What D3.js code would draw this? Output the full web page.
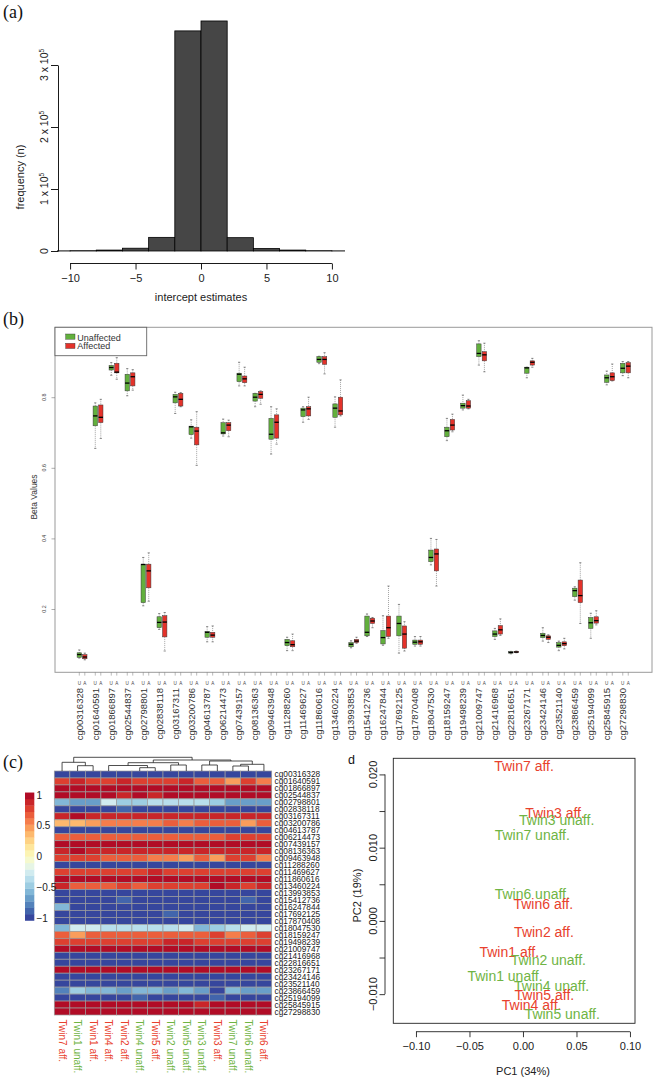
<!DOCTYPE html>
<html><head><meta charset="utf-8">
<script src="https://cdn.jsdelivr.net/npm/d3@7"></script>
<style>body{margin:0;background:#fff} svg{display:block}</style>
</head><body>
<svg id="c" width="657" height="1081"></svg>
<script>
// ---------- DATA ----------
// (a) histogram
const histBreaks = [-12,-10,-8,-6,-4,-2,0,2,4,6,8,10,12];
const histCounts = [200,500,1500,4500,22000,355000,371000,21500,4000,1500,500,200];
const histXTicks = [-10,-5,0,5,10];
const histYTicks = [0,100000,200000,300000];
const histYTickLabels = [["0",""],["1 x 10","5"],["2 x 10","5"],["3 x 10","5"]];

// (b) boxplots  [lo, q1, median, q3, hi]
const probes = ["cg00316328","cg01640591","cg01866897","cg02544837","cg02798801","cg02838118","cg03167311","cg03200786","cg04613787","cg06214473","cg07439157","cg08136363","cg09463948","cg11288260","cg11469627","cg11860616","cg13460224","cg13993853","cg15412736","cg16247844","cg17692125","cg17870408","cg18047530","cg18159247","cg19498239","cg21009747","cg21416968","cg22816651","cg23267171","cg23424146","cg23521140","cg23866459","cg25194099","cg25845915","cg27298830"];
const unaffStats = [
[0.061,0.063,0.071,0.076,0.084],[0.655,0.719,0.747,0.775,0.784],[0.862,0.877,0.884,0.890,0.898],[0.804,0.818,0.840,0.865,0.881],
[0.209,0.218,0.326,0.327,0.346],[0.142,0.147,0.162,0.178,0.187],[0.754,0.784,0.801,0.808,0.814],[0.684,0.694,0.716,0.718,0.736],
[0.107,0.120,0.134,0.136,0.150],[0.690,0.696,0.699,0.728,0.738],[0.832,0.844,0.865,0.868,0.899],[0.773,0.789,0.800,0.811,0.811],
[0.639,0.681,0.695,0.740,0.773],[0.082,0.096,0.105,0.114,0.120],[0.729,0.745,0.764,0.769,0.773],[0.895,0.899,0.907,0.915,0.916],
[0.715,0.743,0.769,0.781,0.801],[0.090,0.093,0.100,0.105,0.110],[0.122,0.124,0.134,0.180,0.186],[0.097,0.101,0.119,0.139,0.181],
[0.075,0.124,0.159,0.180,0.213],[0.095,0.100,0.106,0.112,0.122],[0.325,0.334,0.346,0.367,0.400],[0.677,0.688,0.705,0.715,0.740],
[0.764,0.769,0.776,0.783,0.806],[0.891,0.915,0.924,0.951,0.960],[0.114,0.122,0.129,0.138,0.145],[0.073,0.075,0.077,0.079,0.080],
[0.855,0.868,0.883,0.885,0.885],[0.109,0.119,0.125,0.131,0.147],[0.082,0.092,0.097,0.105,0.109],[0.225,0.235,0.252,0.259,0.263],
[0.117,0.145,0.161,0.176,0.188],[0.835,0.842,0.855,0.863,0.874],[0.861,0.869,0.882,0.896,0.901]];
const affStats = [
[0.056,0.059,0.064,0.071,0.075],[0.683,0.728,0.743,0.778,0.794],[0.851,0.869,0.871,0.896,0.912],[0.820,0.832,0.858,0.869,0.878],
[0.222,0.260,0.308,0.327,0.359],[0.081,0.121,0.163,0.181,0.190],[0.773,0.775,0.794,0.811,0.813],[0.607,0.665,0.704,0.715,0.759],
[0.107,0.120,0.126,0.134,0.152],[0.688,0.705,0.721,0.728,0.735],[0.832,0.841,0.852,0.860,0.885],[0.780,0.797,0.808,0.816,0.818],
[0.667,0.684,0.729,0.750,0.767],[0.082,0.093,0.099,0.110,0.129],[0.737,0.747,0.767,0.773,0.800],[0.866,0.893,0.907,0.915,0.926],
[0.747,0.750,0.761,0.800,0.849],[0.103,0.105,0.109,0.114,0.120],[0.147,0.159,0.166,0.174,0.176],[0.117,0.122,0.147,0.180,0.265],
[0.081,0.089,0.129,0.152,0.164],[0.095,0.100,0.107,0.112,0.122],[0.265,0.308,0.356,0.370,0.397],[0.702,0.707,0.721,0.737,0.752],
[0.767,0.769,0.775,0.790,0.794],[0.872,0.903,0.920,0.929,0.953],[0.125,0.129,0.141,0.153,0.172],[0.076,0.077,0.078,0.080,0.081],
[0.885,0.891,0.899,0.903,0.910],[0.105,0.114,0.120,0.124,0.127],[0.087,0.096,0.102,0.107,0.117],[0.159,0.218,0.238,0.282,0.331],
[0.155,0.160,0.167,0.178,0.195],[0.846,0.847,0.858,0.869,0.894],[0.855,0.869,0.888,0.898,0.901]];
const betaTicks = [0.2,0.4,0.6,0.8];

// (c) heatmap
const hmCols = ["Twin7 aff.","Twin1 unaff.","Twin1 aff.","Twin4 aff.","Twin2 aff.","Twin4 unaff.","Twin5 aff.","Twin2 unaff.","Twin5 unaff.","Twin3 unaff.","Twin3 aff.","Twin7 unaff.","Twin6 unaff.","Twin6 aff."];
const hmAffected = [1,0,1,1,1,0,1,0,0,0,1,0,0,1];
const hmValues = [
[-1,-1,-1,-1,-1,-1,-1,-1,-1,-1,-1,-1,-1,-1],
[0.8,0.85,0.8,0.75,0.85,0.75,0.8,0.75,0.85,0.65,0.65,0.5,0.75,0.55],
[0.95,0.95,0.95,0.95,0.95,0.95,0.95,0.95,0.95,0.95,0.95,0.95,0.95,0.95],
[0.95,0.95,0.95,0.95,0.9,0.95,0.9,0.95,0.95,0.95,0.95,0.95,0.95,0.95],
[-0.6,-0.65,-0.7,-0.3,-0.5,-0.45,-0.4,-0.4,-0.4,-0.4,-0.5,-0.7,-0.65,-0.7],
[-1,-1,-1,-1,-0.85,-1,-1,-1,-1,-1,-1,-1,-1,-1],
[0.9,0.95,0.9,0.9,0.9,0.85,0.9,0.9,0.85,0.9,0.85,0.9,0.9,0.85],
[0.35,0.35,0.45,0.6,0.6,0.6,0.6,0.65,0.6,0.65,0.7,0.65,0.5,0.65],
[-1,-1,-1,-1,-1,-1,-1,-1,-1,-1,-1,-1,-1,-1],
[0.7,0.7,0.7,0.7,0.7,0.7,0.7,0.7,0.7,0.7,0.7,0.75,0.75,0.8],
[0.95,0.95,0.95,0.95,0.95,0.95,0.95,0.95,0.95,0.95,0.95,0.95,0.95,0.95],
[0.9,0.95,0.9,0.9,0.85,0.9,0.85,0.85,0.85,0.9,0.9,0.85,0.9,0.9],
[0.75,0.75,0.75,0.65,0.65,0.65,0.55,0.6,0.45,0.65,0.5,0.75,0.75,0.55],
[-1,-1,-1,-1,-1,-1,-1,-1,-1,-1,-1,-1,-1,-1],
[0.8,0.8,0.75,0.75,0.8,0.75,0.9,0.75,0.75,0.75,0.75,0.8,0.8,0.75],
[0.95,0.95,0.95,0.95,0.95,0.95,0.95,0.95,0.95,0.95,0.95,0.95,0.95,0.95],
[0.85,0.65,0.7,0.7,0.75,0.65,0.75,0.75,0.8,0.8,0.95,0.85,0.8,0.9],
[-1,-1,-1,-1,-1,-1,-1,-1,-1,-1,-1,-1,-1,-1],
[-1,-1,-1,-1,-0.85,-1,-1,-1,-1,-1,-1,-1,-0.85,-1],
[-0.6,-1,-1,-1,-1,-1,-1,-1,-1,-1,-1,-1,-1,-1],
[-1,-1,-1,-1,-1,-1,-1,-0.85,-1,-1,-1,-1,-1,-1],
[-1,-1,-1,-1,-1,-1,-1,-1,-1,-1,-1,-1,-1,-1],
[-0.6,-0.25,-0.3,-0.35,-0.4,-0.4,-0.4,-0.4,-0.3,-0.55,-0.45,-0.4,-0.3,-0.3],
[0.65,0.45,0.65,0.65,0.65,0.65,0.65,0.65,0.65,0.65,0.75,0.55,0.65,0.75],
[0.8,0.8,0.8,0.8,0.8,0.8,0.8,0.9,0.9,0.8,0.8,0.8,0.8,0.8],
[0.95,0.95,0.95,0.95,0.95,0.95,0.95,0.95,0.95,0.95,0.95,0.95,0.95,0.95],
[-1,-1,-1,-1,-1,-1,-1,-1,-1,-1,-1,-1,-1,-1],
[-1,-1,-1,-1,-1,-1,-1,-1,-1,-1,-1,-1,-1,-1],
[0.95,0.95,0.95,0.95,0.95,0.95,0.95,0.95,0.95,0.95,0.95,0.95,0.95,0.95],
[-1,-1,-1,-1,-1,-1,-1,-1,-1,-1,-1,-1,-1,-1],
[-1,-1,-1,-1,-1,-1,-1,-1,-1,-1,-1,-1,-1,-1],
[-0.75,-0.5,-0.55,-0.55,-0.7,-0.6,-0.6,-0.65,-0.6,-0.7,-1,-0.6,-0.7,-0.7],
[-1,-1,-1,-1,-1,-0.85,-1,-1,-1,-1,-0.85,-1,-1,-1],
[0.95,0.95,0.95,0.95,0.95,0.95,0.95,0.95,0.95,0.85,0.95,0.95,0.95,0.95],
[0.95,0.95,0.95,0.95,0.95,0.95,0.95,0.95,0.95,0.95,0.95,0.95,0.95,0.95]];
// dendrogram merges (hclust style: negative = leaf column (1-based), positive = earlier merge)
const dendroMerges = [[-6,-7,3.3],[-8,-9,6.0],[-4,1,5.5],[3,2,8.3],[-10,-11,6.0],[-12,-13,5.0],[6,-14,6.7],[5,7,10.0],[4,8,11.0],[-2,-3,5.3],[-1,10,8.7],[11,9,13.7]];
const legendTicks = [1,0.5,0,-0.5,-1];
const legendTickLabels = ["1","0.5","0","\u22120.5","\u22121"];

// (d) PCA
const pcaLabels = ["Twin7 aff.","Twin3 aff.","Twin3 unaff.","Twin7 unaff.","Twin6 unaff.","Twin6 aff.","Twin2 aff.","Twin1 aff.","Twin2 unaff.","Twin1 unaff.","Twin4 unaff.","Twin5 aff.","Twin4 aff.","Twin5 unaff."];
const pcaAffected = [1,1,0,0,0,1,1,1,0,0,0,1,1,0];
const pc1 = [0.001,0.030,0.0315,0.0087,0.0087,0.019,0.0196,-0.0128,0.0237,-0.0168,0.0268,0.020,0.0081,0.0367];
const pc2 = [0.0212,0.0147,0.0137,0.0117,0.0036,0.0023,-0.0015,-0.0042,-0.0053,-0.0076,-0.0089,-0.0101,-0.0115,-0.0127];
const pcXTicks = [-0.10,-0.05,0.00,0.05,0.10];
const pcYTicks = [-0.010,-0.005,0.000,0.005,0.010,0.015,0.020];
const pcYLabelTicks = [-0.010,0.000,0.010,0.020];

// ---------- DRAW ----------
const SANS = '"Liberation Sans", Arial, Helvetica, sans-serif';
const SERIF = '"Liberation Serif", "Times New Roman", serif';
const GREEN = "#62b03d", RED = "#e4322a";
const TGREEN = "#6fb443", TRED = "#e8412d";
const svg = d3.select("#c").attr("font-family", SANS);

function panelLabel(t, x, y, serif, size){
  svg.append("text").attr("x",x).attr("y",y).attr("font-family", serif?SERIF:SANS).attr("font-size",size).attr("fill","#111").text(t);
}
panelLabel("(a)",3,18,true,18);
panelLabel("(b)",3,325,true,18);
panelLabel("(c)",3,768,true,18);
panelLabel("d",348,764,false,12.5);

// ---- (a) ----
{
  const ax = d3.scaleLinear().domain([-11,11]).range([57,345]);
  const ay = d3.scaleLinear().domain([0,300000]).range([251,65]);
  svg.append("clipPath").attr("id","clipA").append("rect").attr("x",ax(-11)).attr("y",0).attr("width",ax(11)-ax(-11)).attr("height",262);
  const bins = histCounts.map((c,i)=>({x0:histBreaks[i],x1:histBreaks[i+1],c}));
  svg.append("g").attr("clip-path","url(#clipA)").selectAll("rect").data(bins).join("rect")
    .attr("x",d=>ax(d.x0)).attr("width",d=>ax(d.x1)-ax(d.x0))
    .attr("y",d=>ay(d.c)).attr("height",d=>ay(0)-ay(d.c))
    .attr("fill","#464646").attr("stroke","#000").attr("stroke-width",0.8);
  // y axis
  const gy = svg.append("g").attr("transform","translate(58,0)")
    .call(d3.axisLeft(ay).tickValues(histYTicks).tickSize(7).tickSizeOuter(0).tickFormat(""));
  gy.selectAll("path,line").attr("stroke","#000").attr("stroke-width",0.9);
  histYTicks.forEach((v,i)=>{
    const t = svg.append("text").attr("transform",`translate(48,${ay(v)}) rotate(-90)`)
      .attr("text-anchor","middle").attr("font-size",10.5).attr("fill","#222");
    t.append("tspan").text(histYTickLabels[i][0]);
    if(histYTickLabels[i][1]) t.append("tspan").attr("dy",-4).attr("font-size",6.5).text(histYTickLabels[i][1]);
  });
  svg.append("text").attr("transform",`translate(24,${ay(150000)+19}) rotate(-90)`).attr("text-anchor","middle")
    .attr("font-size",11).attr("fill","#222").text("frequency (n)");
  // x axis
  const gx = svg.append("g").attr("transform","translate(0,263.5)")
    .call(d3.axisBottom(ax).tickValues(histXTicks).tickSize(6).tickSizeOuter(0).tickFormat(d=>d<0?"\u2212"+Math.abs(d):d));
  gx.select(".domain").remove();
  gx.append("line").attr("x1",ax(-10)).attr("x2",ax(10)).attr("stroke","#000").attr("stroke-width",0.9);
  gx.selectAll("line").attr("stroke","#000").attr("stroke-width",0.9);
  gx.selectAll("text").attr("font-size",11).attr("fill","#222").attr("font-family",SANS).attr("dy","0.9em");
  svg.append("text").attr("x",ax(0)).attr("y",301).attr("text-anchor","middle").attr("font-size",11).attr("fill","#222").text("intercept estimates");
}

// ---- (b) ----
{
  const by = d3.scaleLinear().domain([0,1]).range([679.6,326.6]);
  const bx = d3.scalePoint().domain(probes).range([82.05,625.5]);
  const off = 2.75, bw = 4.4;
  svg.append("rect").attr("x",55).attr("y",327.3).attr("width",597).attr("height",345)
    .attr("fill","none").attr("stroke","#9a9a9a").attr("stroke-width",1);
  // y ticks
  const gy = svg.append("g").attr("transform","translate(55,0)")
    .call(d3.axisLeft(by).tickValues(betaTicks).tickSize(3.5).tickFormat(""));
  gy.select(".domain").remove();
  gy.selectAll("line").attr("stroke","#777").attr("stroke-width",0.6);
  betaTicks.forEach(v=>{
    svg.append("text").attr("transform",`translate(45.5,${by(v)}) rotate(-90)`).attr("text-anchor","middle")
      .attr("font-size",5.3).attr("fill","#444").text(d3.format(".1f")(v));
  });
  svg.append("text").attr("transform",`translate(37,497) rotate(-90)`).attr("text-anchor","middle")
    .attr("font-size",8.5).attr("fill","#333").text("Beta Values");
  // legend
  svg.append("rect").attr("x",55).attr("y",327.3).attr("width",91.7).attr("height",28.4)
    .attr("fill","#fff").attr("stroke","#666").attr("stroke-width",0.9);
  [["Unaffected",GREEN,334,340.7],["Affected",RED,343.3,349.3]].forEach(([t,c,y,ty])=>{
    svg.append("rect").attr("x",65.7).attr("y",y).attr("width",9.3).attr("height",5.2).attr("fill",c).attr("stroke","#333").attr("stroke-width",0.4);
    svg.append("text").attr("x",77.3).attr("y",ty).attr("font-size",9).attr("fill","#333").text(t);
  });
  const groups = [{s:unaffStats,c:GREEN,o:-off,l:"U"},{s:affStats,c:RED,o:off,l:"A"}];
  const g = svg.append("g");
  probes.forEach((p,i)=>{
    groups.forEach(gr=>{
      const [lo,q1,md,q3,hi] = gr.s[i];
      const x = bx(p)+gr.o;
      g.append("line").attr("x1",x).attr("x2",x).attr("y1",by(hi)).attr("y2",by(q3)).attr("stroke","#444").attr("stroke-width",0.5).attr("stroke-dasharray","1,1");
      g.append("line").attr("x1",x).attr("x2",x).attr("y1",by(q1)).attr("y2",by(lo)).attr("stroke","#444").attr("stroke-width",0.5).attr("stroke-dasharray","1,1");
      [lo,hi].forEach(v=>g.append("line").attr("x1",x-1.1).attr("x2",x+1.1).attr("y1",by(v)).attr("y2",by(v)).attr("stroke","#444").attr("stroke-width",0.6));
      g.append("rect").attr("x",x-bw/2).attr("width",bw).attr("y",by(q3)).attr("height",Math.max(0.6,by(q1)-by(q3)))
        .attr("fill",gr.c).attr("stroke","#3a3a3a").attr("stroke-width",0.5);
      g.append("line").attr("x1",x-bw/2).attr("x2",x+bw/2).attr("y1",by(md)).attr("y2",by(md)).attr("stroke","#000").attr("stroke-width",1.3);
      // ticks + labels
      g.append("line").attr("x1",x).attr("x2",x).attr("y1",672.3).attr("y2",675.6).attr("stroke","#777").attr("stroke-width",0.5);
      g.append("text").attr("x",x).attr("y",684.5).attr("text-anchor","middle").attr("font-size",4.6).attr("fill","#444").text(gr.l);
    });
    g.append("text").attr("transform",`translate(${bx(p)-off},688) rotate(-90)`).attr("text-anchor","end").attr("dy","0.35em")
      .attr("font-size",9.5).attr("fill","#333").text(p);
  });
}

// ---- (c) ----
{
  const hx = d3.scaleBand().domain(d3.range(hmCols.length)).range([54.3,271.7]);
  const hy = d3.scaleBand().domain(probes).range([771,1015]);
  const col = d3.scaleQuantize().domain([-1.04,1.04]).range(d3.range(20).map(i=>d3.interpolateRdYlBu(1-(i+0.5)/20)));
  const cells = [];
  hmValues.forEach((row,r)=>row.forEach((v,c)=>cells.push({r,c,v})));
  svg.append("g").selectAll("rect").data(cells).join("rect")
    .attr("x",d=>hx(d.c)).attr("y",d=>hy(probes[d.r])).attr("width",hx.bandwidth()).attr("height",hy.bandwidth())
    .attr("fill",d=>col(d.v)).attr("stroke","#9c9c9c").attr("stroke-width",0.7);
  // row labels
  svg.append("g").selectAll("text").data(probes).join("text")
    .attr("x",274.5).attr("y",d=>hy(d)+hy.bandwidth()/2).attr("dy","0.36em")
    .attr("font-size",8.3).attr("fill","#222").text(d=>d);
  // column labels
  svg.append("g").selectAll("text").data(hmCols).join("text")
    .attr("transform",(d,i)=>`translate(${hx(i)+hx.bandwidth()/2},1019.5) rotate(90)`).attr("dy","0.35em")
    .attr("font-size",10).attr("fill",(d,i)=>hmAffected[i]?TRED:TGREEN).text(d=>d);
  // dendrogram
  const dh = d3.scaleLinear().domain([0,13.7]).range([771,757.3]);
  const nodes = [];
  const pos = k => k<0 ? {x:hx(-k-1)+hx.bandwidth()/2, h:0} : nodes[k-1];
  const dg = svg.append("g").attr("stroke","#222").attr("stroke-width",0.8).attr("fill","none");
  dendroMerges.forEach(([a,b,h])=>{
    const A = pos(a), B = pos(b);
    dg.append("path").attr("d",`M${A.x},${dh(A.h)}V${dh(h)}H${B.x}V${dh(B.h)}`);
    nodes.push({x:(A.x+B.x)/2, h});
  });
  // legend
  const ly = d3.scaleLinear().domain([-1,1]).range([918,795]);
  const steps = col.range().map((c,i)=>({c, v0:-1.04+i*0.104, v1:-1.04+(i+1)*0.104}));
  svg.append("g").selectAll("rect").data(steps).join("rect")
    .attr("x",25).attr("width",9.3).attr("y",d=>ly(d.v1)).attr("height",d=>ly(d.v0)-ly(d.v1)+0.3).attr("fill",d=>d.c);
  legendTicks.forEach((v,i)=>svg.append("text").attr("x",36.5).attr("y",ly(v)).attr("dy","0.35em")
    .attr("font-size",10).attr("fill","#222").text(legendTickLabels[i]));
}

// ---- (d) ----
{
  const dx = d3.scaleLinear().domain([-0.1212,0.1047]).range([393.3,635]);
  const dy = d3.scaleLinear().domain([-0.01398,0.0222]).range([1023.3,758.3]);
  svg.append("rect").attr("x",393.3).attr("y",758.3).attr("width",241.7).attr("height",265)
    .attr("fill","none").attr("stroke","#222").attr("stroke-width",0.9);
  const gx = svg.append("g").attr("transform","translate(0,1031.7)")
    .call(d3.axisBottom(dx).tickValues(pcXTicks).tickSize(5.5).tickSizeOuter(0).tickFormat(d=>(d<0?"\u2212":"")+d3.format(".2f")(Math.abs(d))));
  gx.select(".domain").remove();
  gx.append("line").attr("x1",dx(-0.10)).attr("x2",dx(0.10));
  gx.selectAll("line").attr("stroke","#222").attr("stroke-width",0.9);
  gx.selectAll("text").attr("font-size",11).attr("fill","#222").attr("font-family",SANS).attr("dy","0.9em");
  const gy = svg.append("g").attr("transform","translate(385,0)")
    .call(d3.axisLeft(dy).tickValues(pcYTicks).tickSize(5.5).tickSizeOuter(0).tickFormat(""));
  gy.select(".domain").remove();
  gy.append("line").attr("y1",dy(-0.010)).attr("y2",dy(0.020));
  gy.selectAll("line").attr("stroke","#222").attr("stroke-width",0.9);
  pcYLabelTicks.forEach(v=>svg.append("text").attr("transform",`translate(377,${dy(v)}) rotate(-90)`).attr("text-anchor","middle")
    .attr("font-size",11).attr("fill","#222").text((v<0?"\u2212":"")+d3.format(".3f")(Math.abs(v))));
  svg.append("text").attr("x",dx(0)).attr("y",1075).attr("text-anchor","middle").attr("font-size",11).attr("fill","#222").text("PC1 (34%)");
  svg.append("text").attr("transform",`translate(361,${dy(0.004)+4}) rotate(-90)`).attr("text-anchor","middle").attr("font-size",11).attr("fill","#222").text("PC2 (19%)");
  svg.append("g").selectAll("text").data(pcaLabels).join("text")
    .attr("x",(d,i)=>dx(pc1[i])).attr("y",(d,i)=>dy(pc2[i])).attr("dy","0.35em").attr("text-anchor","middle")
    .attr("font-size",14).attr("fill",(d,i)=>pcaAffected[i]?TRED:TGREEN).text(d=>d);
}
</script>
</body></html>
